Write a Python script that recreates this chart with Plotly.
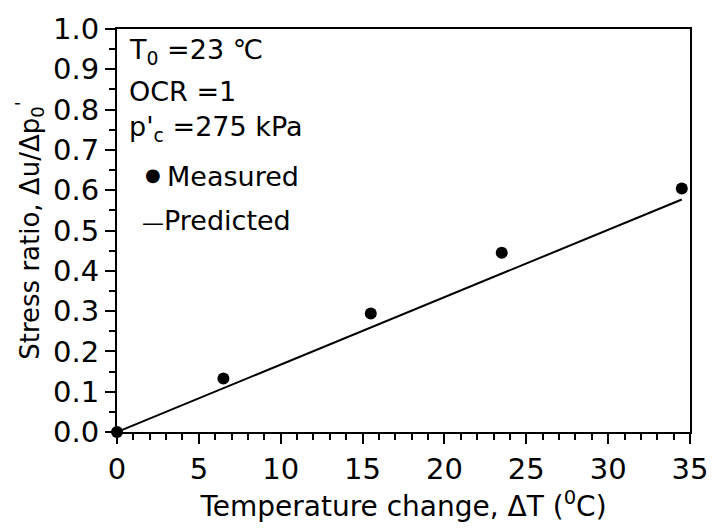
import plotly.graph_objects as go

# Data
measured_x = [0, 6.5, 15.5, 23.5, 34.5]
measured_y = [0.0, 0.133, 0.294, 0.445, 0.604]
predicted_x = [0, 34.5]
predicted_y = [0.0, 0.577]

FONT = "DejaVu Sans, sans-serif"

fig = go.Figure()
fig.add_trace(go.Scatter(x=predicted_x, y=predicted_y, mode="lines",
                         line=dict(color="black", width=2), name="Predicted",
                         showlegend=False, cliponaxis=False))
fig.add_trace(go.Scatter(x=measured_x, y=measured_y, mode="markers",
                         marker=dict(color="black", size=12), name="Measured",
                         showlegend=False, cliponaxis=False))

axis_common = dict(showline=True, linecolor="black", linewidth=2, mirror=True,
                   showgrid=False, zeroline=False, ticks="outside",
                   tickcolor="black", tickwidth=2,
                   tickfont=dict(family=FONT, size=29, color="black"))

fig.update_xaxes(range=[0, 35], dtick=5, tick0=0, ticklen=10,
                 minor=dict(dtick=1, ticks="outside", ticklen=6, tickcolor="black", tickwidth=2),
                 title=dict(text="Temperature change, \u0394T (<sup>0</sup>C)",
                            font=dict(family=FONT, size=28, color="black"), standoff=4),
                 **axis_common)
fig.update_yaxes(range=[0, 1.0], dtick=0.1, tick0=0, ticklen=10, tickformat=".1f",
                 minor=dict(dtick=0.05, ticks="outside", ticklen=6, tickcolor="black", tickwidth=2),
                 title=dict(text="Stress ratio, \u0394u/\u0394p<sub>0</sub><sup>'</sup>",
                            font=dict(family=FONT, size=26, color="black"), standoff=6),
                 **axis_common)

labels = [
    ("T<sub>0</sub> =23 \u2103", 0.017, 0.945, "left", 27),
    ("OCR =1", 0.017, 0.845, "left", 27),
    ("p'<sub>c</sub> =275 kPa", 0.017, 0.752, "left", 27),
    ("\u25CF", 0.062, 0.640, "center", 18),
    ("Measured", 0.084, 0.634, "left", 27),
    ("<span style='font-size:22px'>\u2014</span>Predicted", 0.041, 0.524, "left", 27),
]
for txt, xx, yy, xa, fs in labels:
    fig.add_annotation(text=txt, x=xx, y=yy, xref="paper", yref="paper",
                       xanchor=xa, yanchor="middle", showarrow=False,
                       font=dict(family=FONT, size=fs, color="black"))

fig.update_layout(width=720, height=531, margin=dict(l=117, r=22, t=23, b=99),
                  plot_bgcolor="white", paper_bgcolor="white",
                  font=dict(family=FONT, color="black"))

fig.write_html("out.html")
